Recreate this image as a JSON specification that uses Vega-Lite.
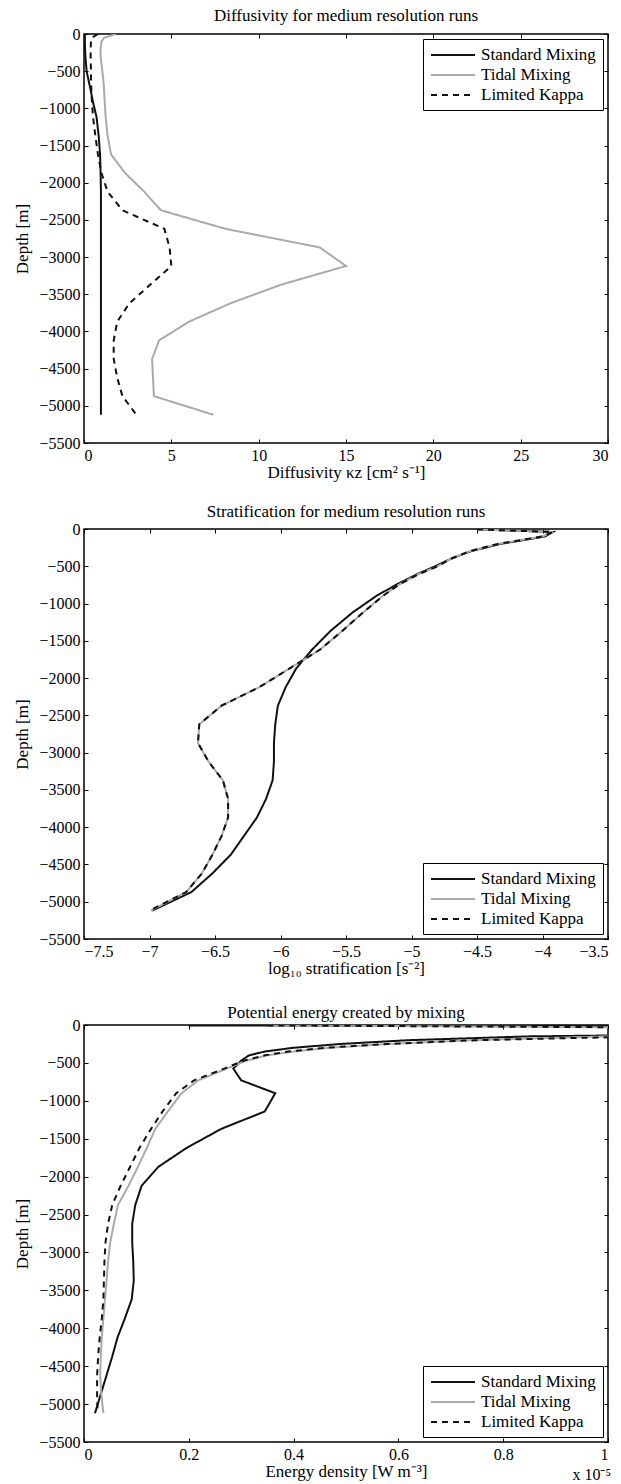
{
  "$schema": "https://vega.github.io/schema/vega-lite/v6.json",
  "background": "white",
  "padding": {"left": 13, "top": 6, "right": 5, "bottom": 0},
  "spacing": 86,
  "bounds": "flush",
  "config": {
    "font": "Liberation Serif",
    "view": {"stroke": "black", "strokeWidth": 1.5},
    "axis": {
      "labelFont": "Liberation Serif", "labelFontSize": 16, "labelColor": "black",
      "titleFont": "Liberation Serif", "titleFontSize": 17, "titleFontWeight": "normal", "titleColor": "black",
      "tickColor": "black", "tickSize": -4, "tickWidth": 1, "domain": false, "grid": false,
      "labelPadding": 8
    },
    "axisX": {"titlePadding": 1},
    "axisY": {"titlePadding": 7},
    "legend": {
      "labelFont": "Liberation Serif", "labelFontSize": 17, "labelColor": "black",
      "strokeColor": "black", "fillColor": "white", "padding": 7, "offset": 5,
      "rowPadding": 3, "symbolType": "M-2.75,0H2.75", "symbolSize": 256,
      "symbolOffset": 14, "labelOffset": 19
    },
    "title": {"font": "Liberation Serif", "fontSize": 17, "fontWeight": "normal", "color": "black", "anchor": "middle"}
  },
  "datasets": {
    "diffusivity": [
      {"run": "Standard Mixing", "depth": 0, "value": 0.05},
      {"run": "Standard Mixing", "depth": -50, "value": 0.05},
      {"run": "Standard Mixing", "depth": -100, "value": 0.05},
      {"run": "Standard Mixing", "depth": -200, "value": 0.06},
      {"run": "Standard Mixing", "depth": -300, "value": 0.08},
      {"run": "Standard Mixing", "depth": -500, "value": 0.15},
      {"run": "Standard Mixing", "depth": -600, "value": 0.24},
      {"run": "Standard Mixing", "depth": -750, "value": 0.38},
      {"run": "Standard Mixing", "depth": -900, "value": 0.5},
      {"run": "Standard Mixing", "depth": -1120, "value": 0.72},
      {"run": "Standard Mixing", "depth": -1370, "value": 0.84},
      {"run": "Standard Mixing", "depth": -1620, "value": 0.92},
      {"run": "Standard Mixing", "depth": -1870, "value": 0.95},
      {"run": "Standard Mixing", "depth": -2120, "value": 0.97},
      {"run": "Standard Mixing", "depth": -2370, "value": 0.97},
      {"run": "Standard Mixing", "depth": -2620, "value": 0.97},
      {"run": "Standard Mixing", "depth": -2870, "value": 0.97},
      {"run": "Standard Mixing", "depth": -3120, "value": 0.97},
      {"run": "Standard Mixing", "depth": -3370, "value": 0.97},
      {"run": "Standard Mixing", "depth": -3620, "value": 0.97},
      {"run": "Standard Mixing", "depth": -3870, "value": 0.97},
      {"run": "Standard Mixing", "depth": -4120, "value": 0.97},
      {"run": "Standard Mixing", "depth": -4370, "value": 0.97},
      {"run": "Standard Mixing", "depth": -4620, "value": 0.97},
      {"run": "Standard Mixing", "depth": -4870, "value": 0.97},
      {"run": "Standard Mixing", "depth": -5120, "value": 0.97},
      {"run": "Tidal Mixing", "depth": 0, "value": 1.83},
      {"run": "Tidal Mixing", "depth": -50, "value": 1.15},
      {"run": "Tidal Mixing", "depth": -100, "value": 1.0},
      {"run": "Tidal Mixing", "depth": -200, "value": 0.95},
      {"run": "Tidal Mixing", "depth": -300, "value": 0.95},
      {"run": "Tidal Mixing", "depth": -500, "value": 1.05},
      {"run": "Tidal Mixing", "depth": -600, "value": 1.1},
      {"run": "Tidal Mixing", "depth": -750, "value": 1.15},
      {"run": "Tidal Mixing", "depth": -900, "value": 1.18},
      {"run": "Tidal Mixing", "depth": -1120, "value": 1.24},
      {"run": "Tidal Mixing", "depth": -1370, "value": 1.35},
      {"run": "Tidal Mixing", "depth": -1620, "value": 1.55},
      {"run": "Tidal Mixing", "depth": -1870, "value": 2.35},
      {"run": "Tidal Mixing", "depth": -2120, "value": 3.45},
      {"run": "Tidal Mixing", "depth": -2370, "value": 4.4},
      {"run": "Tidal Mixing", "depth": -2620, "value": 8.1},
      {"run": "Tidal Mixing", "depth": -2870, "value": 13.5},
      {"run": "Tidal Mixing", "depth": -3120, "value": 15.0},
      {"run": "Tidal Mixing", "depth": -3370, "value": 11.3},
      {"run": "Tidal Mixing", "depth": -3620, "value": 8.4},
      {"run": "Tidal Mixing", "depth": -3870, "value": 6.0},
      {"run": "Tidal Mixing", "depth": -4120, "value": 4.3},
      {"run": "Tidal Mixing", "depth": -4370, "value": 3.9},
      {"run": "Tidal Mixing", "depth": -4620, "value": 3.95},
      {"run": "Tidal Mixing", "depth": -4870, "value": 4.0},
      {"run": "Tidal Mixing", "depth": -5120, "value": 7.4},
      {"run": "Limited Kappa", "depth": 0, "value": 0.8},
      {"run": "Limited Kappa", "depth": -50, "value": 0.45},
      {"run": "Limited Kappa", "depth": -100, "value": 0.4},
      {"run": "Limited Kappa", "depth": -200, "value": 0.38},
      {"run": "Limited Kappa", "depth": -300, "value": 0.38},
      {"run": "Limited Kappa", "depth": -500, "value": 0.4},
      {"run": "Limited Kappa", "depth": -600, "value": 0.4},
      {"run": "Limited Kappa", "depth": -750, "value": 0.42},
      {"run": "Limited Kappa", "depth": -900, "value": 0.45},
      {"run": "Limited Kappa", "depth": -1120, "value": 0.52},
      {"run": "Limited Kappa", "depth": -1370, "value": 0.65},
      {"run": "Limited Kappa", "depth": -1620, "value": 0.8},
      {"run": "Limited Kappa", "depth": -1870, "value": 1.0},
      {"run": "Limited Kappa", "depth": -2120, "value": 1.35},
      {"run": "Limited Kappa", "depth": -2370, "value": 2.2},
      {"run": "Limited Kappa", "depth": -2620, "value": 4.6},
      {"run": "Limited Kappa", "depth": -2870, "value": 4.9},
      {"run": "Limited Kappa", "depth": -3120, "value": 5.0},
      {"run": "Limited Kappa", "depth": -3370, "value": 3.8},
      {"run": "Limited Kappa", "depth": -3620, "value": 2.6},
      {"run": "Limited Kappa", "depth": -3870, "value": 1.9},
      {"run": "Limited Kappa", "depth": -4120, "value": 1.7},
      {"run": "Limited Kappa", "depth": -4370, "value": 1.7},
      {"run": "Limited Kappa", "depth": -4620, "value": 1.9},
      {"run": "Limited Kappa", "depth": -4870, "value": 2.2},
      {"run": "Limited Kappa", "depth": -5120, "value": 3.0}
    ],
    "stratification": [
      {"run": "Standard Mixing", "depth": -5, "value": -4.5},
      {"run": "Standard Mixing", "depth": -40, "value": -3.92},
      {"run": "Standard Mixing", "depth": -100, "value": -3.98},
      {"run": "Standard Mixing", "depth": -200, "value": -4.32},
      {"run": "Standard Mixing", "depth": -300, "value": -4.55},
      {"run": "Standard Mixing", "depth": -400, "value": -4.7},
      {"run": "Standard Mixing", "depth": -500, "value": -4.82},
      {"run": "Standard Mixing", "depth": -600, "value": -4.95},
      {"run": "Standard Mixing", "depth": -750, "value": -5.12},
      {"run": "Standard Mixing", "depth": -900, "value": -5.27},
      {"run": "Standard Mixing", "depth": -1120, "value": -5.45},
      {"run": "Standard Mixing", "depth": -1370, "value": -5.62},
      {"run": "Standard Mixing", "depth": -1620, "value": -5.76},
      {"run": "Standard Mixing", "depth": -1870, "value": -5.88},
      {"run": "Standard Mixing", "depth": -2120, "value": -5.96},
      {"run": "Standard Mixing", "depth": -2370, "value": -6.02},
      {"run": "Standard Mixing", "depth": -2620, "value": -6.04},
      {"run": "Standard Mixing", "depth": -2870, "value": -6.05},
      {"run": "Standard Mixing", "depth": -3120, "value": -6.05},
      {"run": "Standard Mixing", "depth": -3370, "value": -6.06},
      {"run": "Standard Mixing", "depth": -3620, "value": -6.11},
      {"run": "Standard Mixing", "depth": -3870, "value": -6.18},
      {"run": "Standard Mixing", "depth": -4120, "value": -6.28},
      {"run": "Standard Mixing", "depth": -4370, "value": -6.38},
      {"run": "Standard Mixing", "depth": -4620, "value": -6.52},
      {"run": "Standard Mixing", "depth": -4870, "value": -6.68},
      {"run": "Standard Mixing", "depth": -5120, "value": -6.98},
      {"run": "Tidal Mixing", "depth": -5, "value": -4.5},
      {"run": "Tidal Mixing", "depth": -40, "value": -3.92},
      {"run": "Tidal Mixing", "depth": -100, "value": -4.0},
      {"run": "Tidal Mixing", "depth": -200, "value": -4.34},
      {"run": "Tidal Mixing", "depth": -300, "value": -4.56},
      {"run": "Tidal Mixing", "depth": -400, "value": -4.7},
      {"run": "Tidal Mixing", "depth": -500, "value": -4.8},
      {"run": "Tidal Mixing", "depth": -600, "value": -4.94},
      {"run": "Tidal Mixing", "depth": -750, "value": -5.1},
      {"run": "Tidal Mixing", "depth": -900, "value": -5.22},
      {"run": "Tidal Mixing", "depth": -1120, "value": -5.37},
      {"run": "Tidal Mixing", "depth": -1370, "value": -5.53},
      {"run": "Tidal Mixing", "depth": -1620, "value": -5.7},
      {"run": "Tidal Mixing", "depth": -1870, "value": -5.93},
      {"run": "Tidal Mixing", "depth": -2120, "value": -6.16},
      {"run": "Tidal Mixing", "depth": -2370, "value": -6.45},
      {"run": "Tidal Mixing", "depth": -2620, "value": -6.62},
      {"run": "Tidal Mixing", "depth": -2870, "value": -6.63},
      {"run": "Tidal Mixing", "depth": -3120, "value": -6.55},
      {"run": "Tidal Mixing", "depth": -3370, "value": -6.44},
      {"run": "Tidal Mixing", "depth": -3620, "value": -6.4},
      {"run": "Tidal Mixing", "depth": -3870, "value": -6.4},
      {"run": "Tidal Mixing", "depth": -4120, "value": -6.45},
      {"run": "Tidal Mixing", "depth": -4370, "value": -6.52},
      {"run": "Tidal Mixing", "depth": -4620, "value": -6.6},
      {"run": "Tidal Mixing", "depth": -4870, "value": -6.72},
      {"run": "Tidal Mixing", "depth": -5120, "value": -6.99},
      {"run": "Limited Kappa", "depth": -5, "value": -4.5},
      {"run": "Limited Kappa", "depth": -40, "value": -3.92},
      {"run": "Limited Kappa", "depth": -100, "value": -4.0},
      {"run": "Limited Kappa", "depth": -200, "value": -4.34},
      {"run": "Limited Kappa", "depth": -300, "value": -4.56},
      {"run": "Limited Kappa", "depth": -400, "value": -4.7},
      {"run": "Limited Kappa", "depth": -500, "value": -4.8},
      {"run": "Limited Kappa", "depth": -600, "value": -4.94},
      {"run": "Limited Kappa", "depth": -750, "value": -5.1},
      {"run": "Limited Kappa", "depth": -900, "value": -5.22},
      {"run": "Limited Kappa", "depth": -1120, "value": -5.37},
      {"run": "Limited Kappa", "depth": -1370, "value": -5.53},
      {"run": "Limited Kappa", "depth": -1620, "value": -5.7},
      {"run": "Limited Kappa", "depth": -1870, "value": -5.93},
      {"run": "Limited Kappa", "depth": -2120, "value": -6.16},
      {"run": "Limited Kappa", "depth": -2370, "value": -6.45},
      {"run": "Limited Kappa", "depth": -2620, "value": -6.62},
      {"run": "Limited Kappa", "depth": -2870, "value": -6.63},
      {"run": "Limited Kappa", "depth": -3120, "value": -6.55},
      {"run": "Limited Kappa", "depth": -3370, "value": -6.44},
      {"run": "Limited Kappa", "depth": -3620, "value": -6.4},
      {"run": "Limited Kappa", "depth": -3870, "value": -6.4},
      {"run": "Limited Kappa", "depth": -4120, "value": -6.45},
      {"run": "Limited Kappa", "depth": -4370, "value": -6.52},
      {"run": "Limited Kappa", "depth": -4620, "value": -6.6},
      {"run": "Limited Kappa", "depth": -4870, "value": -6.72},
      {"run": "Limited Kappa", "depth": -5120, "value": -7.0}
    ],
    "energy": [
      {"run": "Standard Mixing", "depth": -5, "value": 2.0e-6},
      {"run": "Standard Mixing", "depth": -40, "value": 2.8e-5},
      {"run": "Standard Mixing", "depth": -100, "value": 1.5e-5},
      {"run": "Standard Mixing", "depth": -150, "value": 8.5e-6},
      {"run": "Standard Mixing", "depth": -200, "value": 6.2e-6},
      {"run": "Standard Mixing", "depth": -250, "value": 4.9e-6},
      {"run": "Standard Mixing", "depth": -300, "value": 4.0e-6},
      {"run": "Standard Mixing", "depth": -350, "value": 3.45e-6},
      {"run": "Standard Mixing", "depth": -400, "value": 3.15e-6},
      {"run": "Standard Mixing", "depth": -470, "value": 3.0e-6},
      {"run": "Standard Mixing", "depth": -575, "value": 2.85e-6},
      {"run": "Standard Mixing", "depth": -730, "value": 3.0e-6},
      {"run": "Standard Mixing", "depth": -900, "value": 3.65e-6},
      {"run": "Standard Mixing", "depth": -1140, "value": 3.45e-6},
      {"run": "Standard Mixing", "depth": -1370, "value": 2.62e-6},
      {"run": "Standard Mixing", "depth": -1620, "value": 1.96e-6},
      {"run": "Standard Mixing", "depth": -1870, "value": 1.42e-6},
      {"run": "Standard Mixing", "depth": -2120, "value": 1.1e-6},
      {"run": "Standard Mixing", "depth": -2370, "value": 9.8e-7},
      {"run": "Standard Mixing", "depth": -2620, "value": 9.2e-7},
      {"run": "Standard Mixing", "depth": -2870, "value": 9.2e-7},
      {"run": "Standard Mixing", "depth": -3120, "value": 9.4e-7},
      {"run": "Standard Mixing", "depth": -3370, "value": 9.5e-7},
      {"run": "Standard Mixing", "depth": -3620, "value": 9.1e-7},
      {"run": "Standard Mixing", "depth": -3870, "value": 7.8e-7},
      {"run": "Standard Mixing", "depth": -4120, "value": 6.4e-7},
      {"run": "Standard Mixing", "depth": -4370, "value": 5.4e-7},
      {"run": "Standard Mixing", "depth": -4620, "value": 4.3e-7},
      {"run": "Standard Mixing", "depth": -4870, "value": 3.2e-7},
      {"run": "Standard Mixing", "depth": -5120, "value": 2.1e-7},
      {"run": "Tidal Mixing", "depth": -5, "value": 3.5e-6},
      {"run": "Tidal Mixing", "depth": -40, "value": 1.25e-5},
      {"run": "Tidal Mixing", "depth": -100, "value": 1.5e-5},
      {"run": "Tidal Mixing", "depth": -150, "value": 1.0e-5},
      {"run": "Tidal Mixing", "depth": -200, "value": 7.4e-6},
      {"run": "Tidal Mixing", "depth": -250, "value": 5.8e-6},
      {"run": "Tidal Mixing", "depth": -300, "value": 4.7e-6},
      {"run": "Tidal Mixing", "depth": -350, "value": 4.0e-6},
      {"run": "Tidal Mixing", "depth": -400, "value": 3.5e-6},
      {"run": "Tidal Mixing", "depth": -470, "value": 3.1e-6},
      {"run": "Tidal Mixing", "depth": -575, "value": 2.72e-6},
      {"run": "Tidal Mixing", "depth": -730, "value": 2.18e-6},
      {"run": "Tidal Mixing", "depth": -900, "value": 1.86e-6},
      {"run": "Tidal Mixing", "depth": -1140, "value": 1.6e-6},
      {"run": "Tidal Mixing", "depth": -1370, "value": 1.36e-6},
      {"run": "Tidal Mixing", "depth": -1620, "value": 1.2e-6},
      {"run": "Tidal Mixing", "depth": -1870, "value": 1.03e-6},
      {"run": "Tidal Mixing", "depth": -2120, "value": 8.5e-7},
      {"run": "Tidal Mixing", "depth": -2370, "value": 6.5e-7},
      {"run": "Tidal Mixing", "depth": -2620, "value": 5.7e-7},
      {"run": "Tidal Mixing", "depth": -2870, "value": 5.0e-7},
      {"run": "Tidal Mixing", "depth": -3120, "value": 4.6e-7},
      {"run": "Tidal Mixing", "depth": -3370, "value": 4.3e-7},
      {"run": "Tidal Mixing", "depth": -3620, "value": 4.0e-7},
      {"run": "Tidal Mixing", "depth": -3870, "value": 3.7e-7},
      {"run": "Tidal Mixing", "depth": -4120, "value": 3.4e-7},
      {"run": "Tidal Mixing", "depth": -4370, "value": 3.2e-7},
      {"run": "Tidal Mixing", "depth": -4620, "value": 3.1e-7},
      {"run": "Tidal Mixing", "depth": -4870, "value": 3.3e-7},
      {"run": "Tidal Mixing", "depth": -5120, "value": 3.7e-7},
      {"run": "Limited Kappa", "depth": -5, "value": 3.5e-6},
      {"run": "Limited Kappa", "depth": -40, "value": 1.3e-5},
      {"run": "Limited Kappa", "depth": -100, "value": 1.6e-5},
      {"run": "Limited Kappa", "depth": -150, "value": 1.08e-5},
      {"run": "Limited Kappa", "depth": -200, "value": 7.5e-6},
      {"run": "Limited Kappa", "depth": -250, "value": 5.8e-6},
      {"run": "Limited Kappa", "depth": -300, "value": 4.6e-6},
      {"run": "Limited Kappa", "depth": -350, "value": 3.9e-6},
      {"run": "Limited Kappa", "depth": -400, "value": 3.45e-6},
      {"run": "Limited Kappa", "depth": -470, "value": 3.05e-6},
      {"run": "Limited Kappa", "depth": -575, "value": 2.68e-6},
      {"run": "Limited Kappa", "depth": -730, "value": 2.1e-6},
      {"run": "Limited Kappa", "depth": -900, "value": 1.76e-6},
      {"run": "Limited Kappa", "depth": -1140, "value": 1.5e-6},
      {"run": "Limited Kappa", "depth": -1370, "value": 1.28e-6},
      {"run": "Limited Kappa", "depth": -1620, "value": 1.06e-6},
      {"run": "Limited Kappa", "depth": -1870, "value": 8.8e-7},
      {"run": "Limited Kappa", "depth": -2120, "value": 7.0e-7},
      {"run": "Limited Kappa", "depth": -2370, "value": 5.4e-7},
      {"run": "Limited Kappa", "depth": -2620, "value": 4.6e-7},
      {"run": "Limited Kappa", "depth": -2870, "value": 4.1e-7},
      {"run": "Limited Kappa", "depth": -3120, "value": 3.9e-7},
      {"run": "Limited Kappa", "depth": -3370, "value": 3.8e-7},
      {"run": "Limited Kappa", "depth": -3620, "value": 3.7e-7},
      {"run": "Limited Kappa", "depth": -3870, "value": 3.4e-7},
      {"run": "Limited Kappa", "depth": -4120, "value": 3.0e-7},
      {"run": "Limited Kappa", "depth": -4370, "value": 2.7e-7},
      {"run": "Limited Kappa", "depth": -4620, "value": 2.5e-7},
      {"run": "Limited Kappa", "depth": -4870, "value": 2.5e-7},
      {"run": "Limited Kappa", "depth": -5120, "value": 2.6e-7}
    ],
    "exponent": [{"note": "x 10⁻⁵"}]
  },
  "vconcat": [
    {
      "width": 524, "height": 409,
      "title": {"text": "Diffusivity for medium resolution runs", "offset": 1},
      "data": {"name": "diffusivity"},
      "layer": [
        {
          "mark": {"type": "line", "clip": true},
          "encoding": {
            "x": {"field": "value", "type": "quantitative",
                  "scale": {"domain": [0, 30], "nice": false, "zero": false},
                  "axis": {"orient": "bottom", "values": [0, 5, 10, 15, 20, 25, 30], "format": "d", "title": "Diffusivity κz [cm² s⁻¹]"}},
            "y": {"field": "depth", "type": "quantitative",
                  "scale": {"domain": [-5500, 0], "nice": false, "zero": false},
                  "axis": {"orient": "left", "values": [-5500, -5000, -4500, -4000, -3500, -3000, -2500, -2000, -1500, -1000, -500, 0], "format": "d", "title": "Depth [m]"}},
            "order": {"field": "depth", "sort": "descending"},
            "color": {"field": "run", "type": "nominal",
                      "scale": {"domain": ["Standard Mixing", "Tidal Mixing", "Limited Kappa"], "range": ["#111111", "#aaaaaa", "#111111"]},
                      "legend": {"orient": "top-right", "title": null}},
            "strokeDash": {"field": "run", "type": "nominal",
                           "scale": {"domain": ["Standard Mixing", "Tidal Mixing", "Limited Kappa"], "range": [[1, 0], [1, 0], [6, 5]]},
                           "legend": {"orient": "top-right", "title": null}},
            "strokeWidth": {"field": "run", "type": "nominal",
                            "scale": {"domain": ["Standard Mixing", "Tidal Mixing", "Limited Kappa"], "range": [2, 2, 1]},
                            "legend": {"orient": "top-right", "title": null}}
          }
        },
        {
          "mark": {"type": "point", "opacity": 0},
          "encoding": {
            "x": {"field": "value", "type": "quantitative",
                  "axis": {"orient": "top", "values": [0, 5, 10, 15, 20, 25, 30], "labels": false, "title": null}},
            "y": {"field": "depth", "type": "quantitative",
                  "axis": {"orient": "right", "values": [-5500, -5000, -4500, -4000, -3500, -3000, -2500, -2000, -1500, -1000, -500, 0], "labels": false, "title": null}}
          }
        }
      ],
      "resolve": {"axis": {"x": "independent", "y": "independent"}}
    },
    {
      "width": 524, "height": 410,
      "title": {"text": "Stratification for medium resolution runs", "offset": 0},
      "data": {"name": "stratification"},
      "layer": [
        {
          "mark": {"type": "line", "clip": true},
          "encoding": {
            "x": {"field": "value", "type": "quantitative",
                  "scale": {"domain": [-7.5, -3.5], "nice": false, "zero": false},
                  "axis": {"orient": "bottom", "values": [-7.5, -7, -6.5, -6, -5.5, -5, -4.5, -4, -3.5], "format": "~g", "title": "log₁₀ stratification [s⁻²]"}},
            "y": {"field": "depth", "type": "quantitative",
                  "scale": {"domain": [-5500, 0], "nice": false, "zero": false},
                  "axis": {"orient": "left", "values": [-5500, -5000, -4500, -4000, -3500, -3000, -2500, -2000, -1500, -1000, -500, 0], "format": "d", "title": "Depth [m]"}},
            "order": {"field": "depth", "sort": "descending"},
            "color": {"field": "run", "type": "nominal",
                      "scale": {"domain": ["Standard Mixing", "Tidal Mixing", "Limited Kappa"], "range": ["#111111", "#aaaaaa", "#111111"]},
                      "legend": {"orient": "bottom-right", "title": null}},
            "strokeDash": {"field": "run", "type": "nominal",
                           "scale": {"domain": ["Standard Mixing", "Tidal Mixing", "Limited Kappa"], "range": [[1, 0], [1, 0], [6, 5]]},
                           "legend": {"orient": "bottom-right", "title": null}},
            "strokeWidth": {"field": "run", "type": "nominal",
                            "scale": {"domain": ["Standard Mixing", "Tidal Mixing", "Limited Kappa"], "range": [2, 2, 1]},
                            "legend": {"orient": "bottom-right", "title": null}}
          }
        },
        {
          "mark": {"type": "point", "opacity": 0},
          "encoding": {
            "x": {"field": "value", "type": "quantitative",
                  "axis": {"orient": "top", "values": [-7.5, -7, -6.5, -6, -5.5, -5, -4.5, -4, -3.5], "labels": false, "title": null}},
            "y": {"field": "depth", "type": "quantitative",
                  "axis": {"orient": "right", "values": [-5500, -5000, -4500, -4000, -3500, -3000, -2500, -2000, -1500, -1000, -500, 0], "labels": false, "title": null}}
          }
        }
      ],
      "resolve": {"axis": {"x": "independent", "y": "independent"}}
    },
    {
      "width": 524, "height": 417,
      "title": {"text": "Potential energy created by mixing", "offset": -5},
      "data": {"name": "energy"},
      "layer": [
        {
          "mark": {"type": "line", "clip": true},
          "encoding": {
            "x": {"field": "value", "type": "quantitative",
                  "scale": {"domain": [0, 1e-5], "nice": false, "zero": false},
                  "axis": {"orient": "bottom", "values": [0, 2e-6, 4e-6, 6e-6, 8e-6, 1e-5], "labelExpr": "format(datum.value * 1e5, '~g')", "title": "Energy density [W m⁻³]"}},
            "y": {"field": "depth", "type": "quantitative",
                  "scale": {"domain": [-5500, 0], "nice": false, "zero": false},
                  "axis": {"orient": "left", "values": [-5500, -5000, -4500, -4000, -3500, -3000, -2500, -2000, -1500, -1000, -500, 0], "format": "d", "title": "Depth [m]"}},
            "order": {"field": "depth", "sort": "descending"},
            "color": {"field": "run", "type": "nominal",
                      "scale": {"domain": ["Standard Mixing", "Tidal Mixing", "Limited Kappa"], "range": ["#111111", "#aaaaaa", "#111111"]},
                      "legend": {"orient": "bottom-right", "title": null}},
            "strokeDash": {"field": "run", "type": "nominal",
                           "scale": {"domain": ["Standard Mixing", "Tidal Mixing", "Limited Kappa"], "range": [[1, 0], [1, 0], [6, 5]]},
                           "legend": {"orient": "bottom-right", "title": null}},
            "strokeWidth": {"field": "run", "type": "nominal",
                            "scale": {"domain": ["Standard Mixing", "Tidal Mixing", "Limited Kappa"], "range": [2, 2, 1]},
                            "legend": {"orient": "bottom-right", "title": null}}
          }
        },
        {
          "mark": {"type": "point", "opacity": 0},
          "encoding": {
            "x": {"field": "value", "type": "quantitative",
                  "axis": {"orient": "top", "values": [0, 2e-6, 4e-6, 6e-6, 8e-6, 1e-5], "labels": false, "title": null}},
            "y": {"field": "depth", "type": "quantitative",
                  "axis": {"orient": "right", "values": [-5500, -5000, -4500, -4000, -3500, -3000, -2500, -2000, -1500, -1000, -500, 0], "labels": false, "title": null}}
          }
        },
        {
          "data": {"name": "exponent"},
          "mark": {"type": "text", "align": "right", "baseline": "alphabetic", "dx": 3, "dy": 38, "fontSize": 16, "font": "Liberation Serif", "color": "black"},
          "encoding": {
            "x": {"datum": 1e-5, "type": "quantitative", "axis": null},
            "y": {"datum": -5500, "type": "quantitative", "axis": null},
            "text": {"field": "note"}
          }
        }
      ],
      "resolve": {"axis": {"x": "independent", "y": "independent"}}
    }
  ]
}
